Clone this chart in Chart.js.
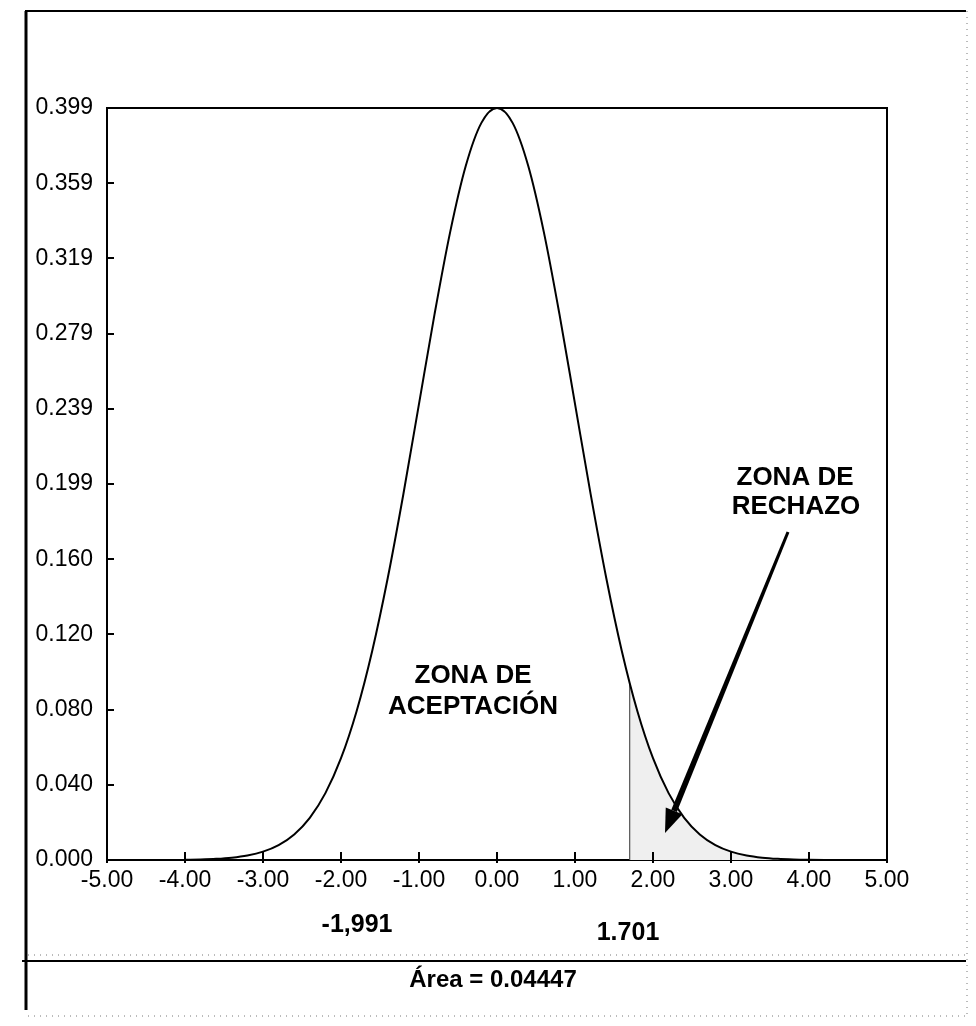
<!DOCTYPE html>
<html><head><meta charset="utf-8">
<script src="https://cdn.jsdelivr.net/npm/chart.js@4.4.0/dist/chart.umd.min.js"></script>
<style>html,body{margin:0;padding:0;background:#fff}#wrap{width:976px;height:1026px}</style>
</head><body><div id="wrap"><canvas id="c" width="976" height="1026"></canvas></div>
<script>
// ---- data ----
const curveX = [-4.0,-3.8,-3.6,-3.4,-3.2,-3.0,-2.8,-2.6,-2.4,-2.2,-2.0,-1.8,-1.6,-1.4,-1.2,-1.0,-0.8,-0.6,-0.4,-0.2,0.0,0.2,0.4,0.6,0.8,1.0,1.2,1.4,1.6,1.8,2.0,2.2,2.4,2.6,2.8,3.0,3.2,3.4,3.6,3.8,4.0,4.2,4.4];
const curveY = [0.00013,0.00029,0.00061,0.00123,0.00238,0.00443,0.00792,0.01358,0.02239,0.03547,0.05399,0.07895,0.11092,0.14973,0.19419,0.24197,0.28969,0.33322,0.36827,0.39104,0.39894,0.39104,0.36827,0.33322,0.28969,0.24197,0.19419,0.14973,0.11092,0.07895,0.05399,0.03547,0.02239,0.01358,0.00792,0.00443,0.00238,0.00123,0.00061,0.00029,0.00013,0.00006,0.00002];
const rejectX = [1.701,1.8,2.0,2.2,2.4,2.6,2.8,3.0,3.2,3.4,3.6,3.8,4.0,4.2,4.4];
const rejectY = [0.09369,0.07895,0.05399,0.03547,0.02239,0.01358,0.00792,0.00443,0.00238,0.00123,0.00061,0.00029,0.00013,0.00006,0.00002];
const criticalX = [1.701,1.701];
const criticalY = [0,0.09369];
const yTickValues = [0,0.03989,0.07979,0.11968,0.15958,0.19947,0.23936,0.27926,0.31915,0.35905,0.39894];
const yTickLabels = ['0.000','0.040','0.080','0.120','0.160','0.199','0.239','0.279','0.319','0.359','0.399'];
const xTickValues = [-5,-4,-3,-2,-1,0,1,2,3,4,5];
const xTickLabels = ['-5.00','-4.00','-3.00','-2.00','-1.00','0.00','1.00','2.00','3.00','4.00','5.00'];
const zoneAcceptLines = ['ZONA DE','ACEPTACIÓN'];
const zoneRejectLines = ['ZONA DE','RECHAZO'];
const lowerLabel = '-1,991';
const upperLabel = '1.701';
const areaLabel = 'Área = 0.04447';

const pts = (xs, ys) => xs.map((x, i) => ({x, y: ys[i]}));
const tickFont = '"Liberation Sans", Arial, sans-serif';

const decor = {
  id: 'decor',
  afterDraw(chart) {
    const ctx = chart.ctx, a = chart.chartArea;
    const xs = chart.scales.x, ys = chart.scales.y;
    ctx.save();
    ctx.strokeStyle = '#000'; ctx.lineWidth = 2;
    ctx.beginPath();
    ctx.moveTo(a.left, a.top); ctx.lineTo(a.right, a.top); ctx.lineTo(a.right, a.bottom);
    ctx.stroke();
    ctx.lineWidth = 2;
    ys.ticks.forEach(t => {
      const y = Math.round(ys.getPixelForValue(t.value));
      ctx.beginPath(); ctx.moveTo(a.left - 1, y); ctx.lineTo(a.left + 7, y); ctx.stroke();
    });
    xs.ticks.forEach(t => {
      const x = Math.round(xs.getPixelForValue(t.value));
      ctx.beginPath(); ctx.moveTo(x, a.bottom - 8); ctx.lineTo(x, a.bottom + 3); ctx.stroke();
    });
    ctx.lineWidth = 3;
    ctx.beginPath(); ctx.moveTo(26, 11); ctx.lineTo(26, 1010); ctx.stroke();
    ctx.lineWidth = 2;
    ctx.beginPath(); ctx.moveTo(25, 11); ctx.lineTo(966, 11); ctx.stroke();
    ctx.beginPath(); ctx.moveTo(22, 961); ctx.lineTo(966, 961); ctx.stroke();
    ctx.setLineDash([1, 5]); ctx.lineWidth = 1; ctx.strokeStyle = '#777';
    ctx.beginPath(); ctx.moveTo(28, 955); ctx.lineTo(966, 955); ctx.stroke();
    ctx.beginPath(); ctx.moveTo(28, 1016); ctx.lineTo(966, 1016); ctx.stroke();
    ctx.beginPath(); ctx.moveTo(967, 11); ctx.lineTo(967, 1016); ctx.stroke();
    ctx.setLineDash([]);
    const sx = 788, sy = 532, tx = 665, ty = 833;
    const ang = Math.atan2(ty - sy, tx - sx);
    const nx = -Math.sin(ang), ny = Math.cos(ang);
    const hl = 24, hw = 9;
    const bx = tx - hl * Math.cos(ang), by = ty - hl * Math.sin(ang);
    ctx.fillStyle = '#000';
    ctx.beginPath();
    ctx.moveTo(sx + nx * 1.5, sy + ny * 1.5);
    ctx.lineTo(bx + nx * 3, by + ny * 3);
    ctx.lineTo(bx - nx * 3, by - ny * 3);
    ctx.lineTo(sx - nx * 1.5, sy - ny * 1.5);
    ctx.closePath(); ctx.fill();
    ctx.beginPath();
    ctx.moveTo(tx, ty);
    ctx.lineTo(bx + nx * hw, by + ny * hw);
    ctx.lineTo(bx - nx * hw, by - ny * hw);
    ctx.closePath(); ctx.fill();
    ctx.fillStyle = '#000'; ctx.textAlign = 'center'; ctx.textBaseline = 'alphabetic';
    ctx.font = 'bold 26px "Liberation Sans", Arial, sans-serif';
    ctx.fillText(zoneAcceptLines[0], 473, 683);
    ctx.fillText(zoneAcceptLines[1], 473, 714);
    ctx.fillText(zoneRejectLines[0], 795, 485);
    ctx.fillText(zoneRejectLines[1], 796, 514);
    ctx.font = 'bold 25px "Liberation Sans", Arial, sans-serif';
    ctx.fillText(lowerLabel, 357, 932);
    ctx.fillText(upperLabel, 628, 940);
    ctx.font = 'bold 24px "Liberation Sans", Arial, sans-serif';
    ctx.fillText(areaLabel, 493, 987);
    ctx.restore();
  }
};

new Chart(document.getElementById('c'), {
  type: 'line',
  data: {
    datasets: [
      { data: pts(rejectX, rejectY), borderWidth: 0, borderColor: 'rgba(0,0,0,0)', backgroundColor: '#efefef', fill: 'origin', pointRadius: 0, cubicInterpolationMode: 'monotone', order: 3 },
      { data: pts(criticalX, criticalY), borderWidth: 1.2, borderColor: '#555', pointRadius: 0, fill: false, order: 2 },
      { data: pts(curveX, curveY), borderWidth: 2, borderColor: '#000', pointRadius: 0, fill: false, cubicInterpolationMode: 'monotone', order: 1 }
    ]
  },
  options: {
    responsive: false,
    animation: false,
    events: [],
    layout: { padding: { left: 0, right: 89, top: 108, bottom: 0 } },
    plugins: { legend: { display: false }, tooltip: { enabled: false } },
    scales: {
      x: {
        type: 'linear', min: -5, max: 5,
        afterBuildTicks(s) { s.ticks = xTickValues.map(v => ({ value: v })); },
        afterFit(s) { s.height = 166; },
        grid: { display: true, drawOnChartArea: false, drawTicks: false, color: 'rgba(0,0,0,0)' },
        border: { display: true, color: '#000', width: 2 },
        ticks: { color: '#000', padding: 7, maxRotation: 0, autoSkip: false,
          font: { family: tickFont, size: 23 },
          callback: (v, i) => xTickLabels[i] }
      },
      y: {
        type: 'linear', min: 0, max: 0.39894,
        afterBuildTicks(s) { s.ticks = yTickValues.map(v => ({ value: v })); },
        afterFit(s) { s.width = 107; },
        grid: { display: true, drawOnChartArea: false, drawTicks: false, color: 'rgba(0,0,0,0)' },
        border: { display: true, color: '#000', width: 2 },
        ticks: { color: '#000', padding: 14, autoSkip: false,
          font: { family: tickFont, size: 23 },
          callback: (v, i) => yTickLabels[i] }
      }
    }
  },
  plugins: [decor]
});
</script></body></html>
